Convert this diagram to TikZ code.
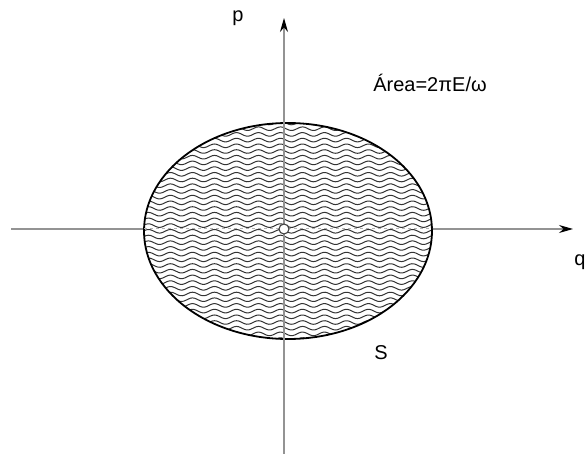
\documentclass[tikz,border=0pt]{standalone}
\usepackage{fontspec}
\setmainfont{Liberation Sans}
\usetikzlibrary{arrows.meta}
\begin{document}
\begin{tikzpicture}[x=1pt, y=-1pt, thick,
  axis/.style={line width=1.2pt, gray!85, -{Stealth[length=14pt, width=8pt, black]}},
  wave/.style={line width=1pt, black!80},
  lbl/.style={font=\fontsize{20}{24}\selectfont}]
  \useasboundingbox (0,0) rectangle (587,454);

  % -- Axes --
  \coordinate (qstart) at (11,229);
  \coordinate (qend) at (573,229);
  \coordinate (pstart) at (284,454);
  \coordinate (pend) at (284,18);
  \draw[axis] (qstart) -- (qend);

  % -- Phase-space ellipse, filled with waves --
  \fill[white] (288,231) ellipse [x radius=144, y radius=108];
  \begin{scope}
    \clip (288,231) ellipse [x radius=144, y radius=108];
    \foreach \k in {0,...,38}
      \draw[wave] plot[domain=140:440, samples=150, smooth] (\x, {123+5.7*\k+1.8*sin(\x/22*360)});
  \end{scope}
  \draw[line width=1.8pt] (288,231) ellipse [x radius=144, y radius=108];

  % -- Dashed axis through the orbit --
  \coordinate (dleft) at (144,229);
  \coordinate (dright) at (432,229);
  \draw[gray!60, dashed, line width=1pt] (dleft) -- (dright);
  \draw[axis] (pstart) -- (pend);
  \node[circle, draw=black!75, fill=white, line width=1.1pt, inner sep=0pt, minimum size=10pt] (origin) at (284,229) {};

  % -- Labels --
  \node[lbl] (plabel) at (238,18) {p};
  \node[lbl] (qlabel) at (580,262) {q};
  \node[lbl] (area) at (430,83) {Área=2πE/ω};
  \node[lbl] (slabel) at (381,353) {S};

\end{tikzpicture}
\end{document}
